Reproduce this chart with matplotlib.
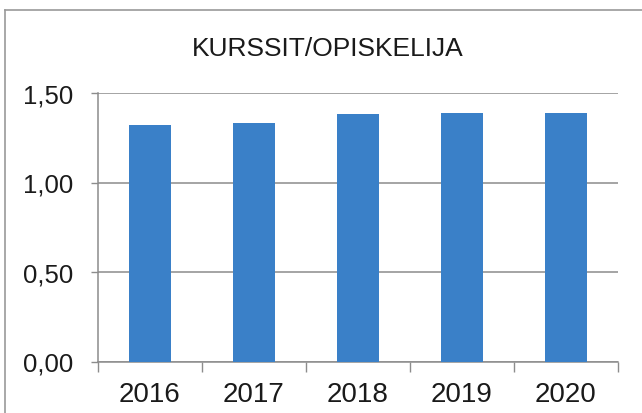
import matplotlib
matplotlib.use("Agg")
import matplotlib.pyplot as plt
from matplotlib.lines import Line2D

years = ["2016", "2017", "2018", "2019", "2020"]
values = [1.32, 1.33, 1.38, 1.39, 1.39]
yticks = [0.0, 0.5, 1.0, 1.5]
ytick_labels = ["0,00", "0,50", "1,00", "1,50"]
title = "KURSSIT/OPISKELIJA"

plt.rcParams['font.family'] = ['Liberation Sans', 'DejaVu Sans']

W, H = 642, 414
fig = plt.figure(figsize=(W / 100, H / 100), dpi=100)
fig.patch.set_facecolor("white")

# outer frame (left and top edges visible in the scan)
fig.add_artist(Line2D([5 / W, 5 / W], [0, 1 - 10.5 / H], transform=fig.transFigure,
                      color="#9a9a9a", lw=1.2))
fig.add_artist(Line2D([5 / W, 1], [1 - 10.5 / H, 1 - 10.5 / H], transform=fig.transFigure,
                      color="#9a9a9a", lw=1.2))

left, right = 98 / W, 618 / W
bottom, top = 1 - 362.5 / H, 1 - 94 / H
ax = fig.add_axes([left, bottom, right - left, top - bottom])

x = list(range(len(years)))
ax.bar(x, values, width=0.41, color="#3a80c8", zorder=3)

ax.set_xlim(-0.5, len(years) - 0.5)
ax.set_ylim(0, 1.5)

grid_c = "#8c8c8c"
ax.set_yticks(yticks)
ax.set_yticklabels(ytick_labels, fontsize=18.5)
ax.yaxis.grid(True, color=grid_c, lw=1.1, zorder=0)
ax.tick_params(axis="y", length=5, width=1.0, color=grid_c, pad=13, labelcolor="#1a1a1a")

# major ticks at category boundaries, labels at category centres
ax.set_xticks([i - 0.5 for i in range(len(years) + 1)])
ax.set_xticklabels([""] * (len(years) + 1))
ax.set_xticks(x, minor=True)
ax.set_xticklabels(years, minor=True, fontsize=20)
ax.tick_params(axis="x", which="major", length=7, width=1.0, color=grid_c)
ax.tick_params(axis="x", which="minor", length=0, pad=14, labelcolor="#1a1a1a")

for s in ["top", "right"]:
    ax.spines[s].set_visible(False)
for s in ["left", "bottom"]:
    ax.spines[s].set_color(grid_c)
    ax.spines[s].set_linewidth(1.1)
ax.set_axisbelow(True)

fig.text(328 / W, 1 - 55.7 / H, title, ha="center", va="baseline",
         fontsize=19, color="#1a1a1a")

fig.savefig("out.png", dpi=100)
